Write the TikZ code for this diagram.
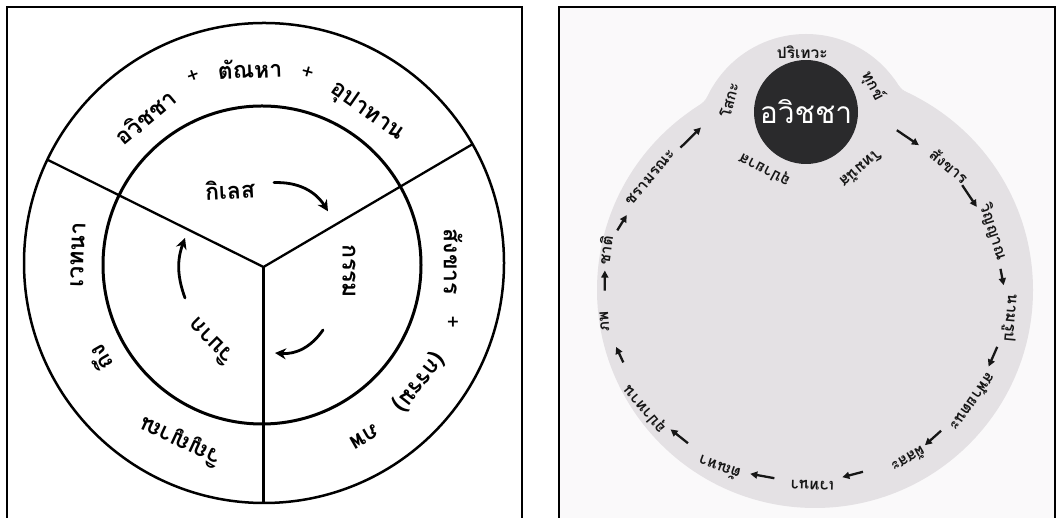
\documentclass[tikz,border=0pt]{standalone}
\usepackage{fontspec}
\newfontfamily\thai[Script=Thai]{Loma}
\usetikzlibrary{arrows.meta,calc}
\definecolor{shapegray}{RGB}{228,225,228}
\definecolor{darkdisc}{RGB}{42,42,44}
\definecolor{inkc}{RGB}{22,22,22}
\definecolor{panelbg}{RGB}{250,249,250}
\begin{document}
\begin{tikzpicture}[x=1pt,y=1pt,
  frame/.style={line width=2.2pt,black},
  ring/.style={line width=2.5pt,black},
  spoke/.style={line width=2.3pt,black,line join=round},
  hand/.style={font=\thai\bfseries\fontsize{23}{25}\selectfont,inner sep=0pt},
  plus/.style={font=\thai\fontsize{21}{23}\selectfont,inner sep=0pt},
  curvarr/.style={line width=2.8pt,line cap=round,-{Stealth[length=11pt,width=11pt]}},
  lab/.style={font=\thai\bfseries\fontsize{15.5}{17}\selectfont,text=inkc,inner sep=1pt},
  rarr/.style={line width=2.3pt,inkc,-{Triangle[length=7pt,width=7pt]}}]
\useasboundingbox (0,0) rectangle (1057,518);
\fill[white] (0,0) rectangle (1057,518);

% ---------------- left panel ----------------
\draw[frame] (7,0) -- (7,511) -- (522,511) -- (522,0);
\coordinate (oc) at (264,255);
\coordinate (ic) at (262,253);
\coordinate (hub) at (263.5,251);
\draw[ring] (oc) circle[radius=240];
\draw[ring,line width=3pt] (ic) circle[radius=159];
\coordinate (sUL) at (47.4,358.3);
\coordinate (sUR) at (472.5,373.8);
\coordinate (sB) at (263.5,15);
\draw[spoke] (sUL) -- (hub) -- (sUR);
\draw[spoke] (hub) -- (sB);

\node[hand,rotate=40] (avi) at (145,401) {อวิชชา};
\node[plus,rotate=20] (p1) at (193.3,441.3) {+};
\node[hand,rotate=2] (tanha) at (250,449) {ตัณหา};
\node[plus,rotate=-15] (p2) at (307.3,444.7) {+};
\node[hand,rotate=-35] (upa) at (367,406) {อุปาทาน};
\node[hand,rotate=-90] (sang) at (453,256) {สังขาร};
\node[plus] (p3) at (453,195) {+};
\node[hand,rotate=-128] (kam2) at (419,136) {(กรรม)};
\node[hand,rotate=-150] (phop) at (365,81) {ภพ};
\node[hand,rotate=155] (vin) at (180,77) {วิญญาณ};
\node[hand,rotate=120] (thueng) at (100,159.5) {ถึง};
\node[hand,rotate=88] (ved) at (78,263) {เวทนา};

\node[hand,rotate=3] (kilet) at (230,328.5) {กิเลส};
\node[hand,rotate=-90] (kam) at (349,247) {กรรม};
\node[hand,rotate=135] (vibak) at (210,176) {วิบาก};

\coordinate (k1s) at (274,335.4); \coordinate (k1e) at (328,306.7);
\coordinate (k2s) at (323,188);   \coordinate (k2e) at (275,165);
\coordinate (k3s) at (185,220);   \coordinate (k3e) at (185,280);
\draw[curvarr] (k1s) to[bend left=30] (k1e);
\draw[curvarr] (k2s) to[bend left=30] (k2e);
\draw[curvarr] (k3s) to[bend left=20] (k3e);

% ---------------- right panel ----------------
\fill[panelbg] (559,0) rectangle (1055,511);
\draw[frame] (559,0) -- (559,511) -- (1055,511) -- (1055,0);
\fill[shapegray] (815,228) circle[radius=218];
\fill[shapegray] (806,375) circle[radius=109];
\coordinate (jl) at (705,416.2);
\coordinate (jr) at (901,428.2);
\fill[shapegray] (jl) -- (711.6,429.5) .. controls (jl) .. (690,406.6) -- cycle;
\fill[shapegray] (jr) -- (894.2,439.1) .. controls (jr) .. (917.3,420.5) -- cycle;

\node[circle,fill=darkdisc,minimum size=104pt,inner sep=0pt,text=white,
      font=\thai\fontsize{30}{32}\selectfont] (avidcha) at (806,406) {อวิชชา};

\node[lab,rotate=0]    (rP)  at (802.3,466)   {ปริเทวะ};
\node[lab,rotate=-62]  (rT)  at (873,432)     {ทุกข์};
\node[lab,rotate=75]   (rS)  at (729,418)     {โสกะ};
\node[lab,rotate=-140] (rTm) at (861,349)     {โทมนัส};
\node[lab,rotate=152]  (rU)  at (765,349)     {อุปายาส};

\node[lab,rotate=-40]  (c1)  at (949.2,352.3) {สังขาร};
\node[lab,rotate=-72]  (c2)  at (993.2,286.4) {วิญญาณ};
\node[lab,rotate=-95]  (c3)  at (1010,200.2)  {นามรูป};
\node[lab,rotate=-125] (c4)  at (972.9,115.7) {สฬายตนะ};
\node[lab,rotate=-150] (c5)  at (908.6,58.2)  {ผัสสะ};
\node[lab,rotate=178]  (c6)  at (812.3,32.9)  {เวทนา};
\node[lab,rotate=160]  (c7)  at (719.3,49.8)  {ตัณหา};
\node[lab,rotate=130]  (c8)  at (645,109)     {อุปาทาน};
\node[lab,rotate=93]   (c9)  at (604.4,196.2) {ภพ};
\node[lab,rotate=82]   (c10) at (605,267.8)   {ชาติ};
\node[lab,rotate=50]   (c11) at (650,340.5)   {ชรามรณะ};

\coordinate (r1s) at (896.8,387.8);
\draw[rarr,shorten >=36.6pt] (r1s) -- (c1.center);
\draw[rarr] ($(c1)!0.295!(c2)$) -- ($(c1)!0.626!(c2)$);
\draw[rarr] ($(c2)!0.432!(c3)$) -- ($(c2)!0.622!(c3)$);
\draw[rarr] ($(c3)!0.344!(c4)$) -- ($(c3)!0.577!(c4)$);
\draw[rarr] ($(c4)!0.495!(c5)$) -- ($(c4)!0.746!(c5)$);
\draw[rarr] ($(c5)!0.474!(c6)$) -- ($(c5)!0.688!(c6)$);
\draw[rarr] ($(c6)!0.408!(c7)$) -- ($(c6)!0.667!(c7)$);
\draw[rarr] ($(c7)!0.422!(c8)$) -- ($(c7)!0.656!(c8)$);
\draw[rarr] ($(c8)!0.534!(c9)$) -- ($(c8)!0.712!(c9)$);
\draw[rarr] ($(c9)!0.434!(c10)$) -- ($(c9)!0.716!(c10)$);
\draw[rarr] ($(c10)!0.273!(c11)$) -- ($(c10)!0.483!(c11)$);
\draw[rarr] ($(c11)!0.386!(rS)$) -- ($(c11)!0.645!(rS)$);
\end{tikzpicture}
\end{document}
